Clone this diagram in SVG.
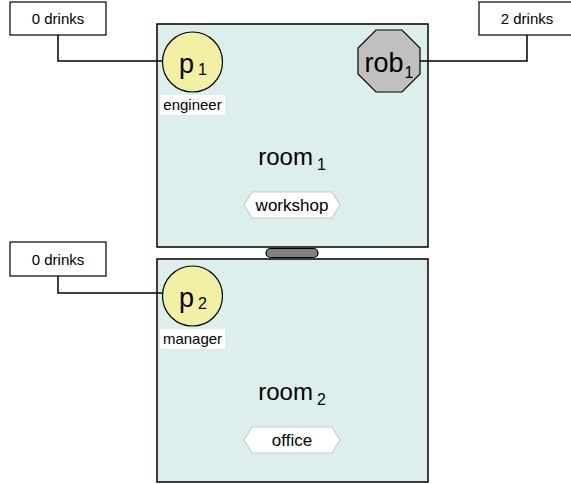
<svg xmlns="http://www.w3.org/2000/svg" width="571" height="484" viewBox="0 0 571 484">
<style>
text{font-family:"Liberation Sans",Arial,sans-serif;fill:#000}
.room{fill:#ddefec;stroke:#000;stroke-width:1.5}
.box{fill:#fff;stroke:#000;stroke-width:1.2}
.person{fill:#f2f0a2;stroke:#000;stroke-width:1.2}
.robot{fill:#c0c0c0;stroke:#000;stroke-width:1.2}
.tag{fill:#fff;stroke:#c8c8c8;stroke-width:1.2}
.conn{fill:none;stroke:#000;stroke-width:1.5}
.lbl{font-size:15px;text-anchor:middle}
.tagt{font-size:17px;text-anchor:middle}
.big{font-size:24px}
.sub{font-size:16px}
</style>
<g id="room1">
<rect class="room" x="157" y="24" width="271" height="223"/>
<text x="292" y="165" text-anchor="middle"><tspan class="big">room</tspan><tspan class="sub" dx="4" dy="5">1</tspan></text>
<polygon class="tag" points="252,192 332,192 340,205 332,218 252,218 244,205"/>
<text class="tagt" x="292" y="211">workshop</text>
</g>
<g id="room2">
<rect class="room" x="157" y="259" width="271" height="223"/>
<text x="292" y="400" text-anchor="middle"><tspan class="big">room</tspan><tspan class="sub" dx="4" dy="5">2</tspan></text>
<polygon class="tag" points="252,427 332,427 340,440 332,453 252,453 244,440"/>
<text class="tagt" x="292" y="446">office</text>
</g>
<g id="door">
<rect x="266" y="248.5" width="52" height="9" rx="4.5" fill="#808080" stroke="#000" stroke-width="1.2"/>
</g>
<g id="connectors">
<polyline class="conn" points="58,35 58,61 162,61"/>
<polyline class="conn" points="420,61 527,61 527,35"/>
<polyline class="conn" points="58,276 58,293 162,293"/>
</g>
<g id="p1">
<circle class="person" cx="192.5" cy="62" r="30"/>
<text x="193" y="73" text-anchor="middle"><tspan font-size="27">p</tspan><tspan class="sub" dx="4" dy="2">1</tspan></text>
<rect x="160" y="95" width="65" height="20" fill="#fff"/>
<text class="lbl" x="192.5" y="110">engineer</text>
</g>
<g id="p2">
<circle class="person" cx="192.5" cy="296" r="30"/>
<text x="193" y="307" text-anchor="middle"><tspan font-size="27">p</tspan><tspan class="sub" dx="4" dy="2">2</tspan></text>
<rect x="160" y="329" width="65" height="20" fill="#fff"/>
<text class="lbl" x="192.5" y="344">manager</text>
</g>
<g id="rob1">
<polygon class="robot" points="376,30 402,30 420,48 420,74 402,92 376,92 358,74 358,48"/>
<text x="389" y="72" text-anchor="middle"><tspan font-size="27">rob</tspan><tspan class="sub" dx="1" dy="6">1</tspan></text>
</g>
<g id="drinks_p1">
<rect class="box" x="10" y="2" width="96" height="33"/>
<text class="lbl" x="58" y="24">0 drinks</text>
</g>
<g id="drinks_rob1">
<rect class="box" x="479" y="2" width="96" height="33"/>
<text class="lbl" x="527" y="24">2 drinks</text>
</g>
<g id="drinks_p2">
<rect class="box" x="10" y="242" width="96" height="34"/>
<text class="lbl" x="58" y="265">0 drinks</text>
</g>
</svg>
